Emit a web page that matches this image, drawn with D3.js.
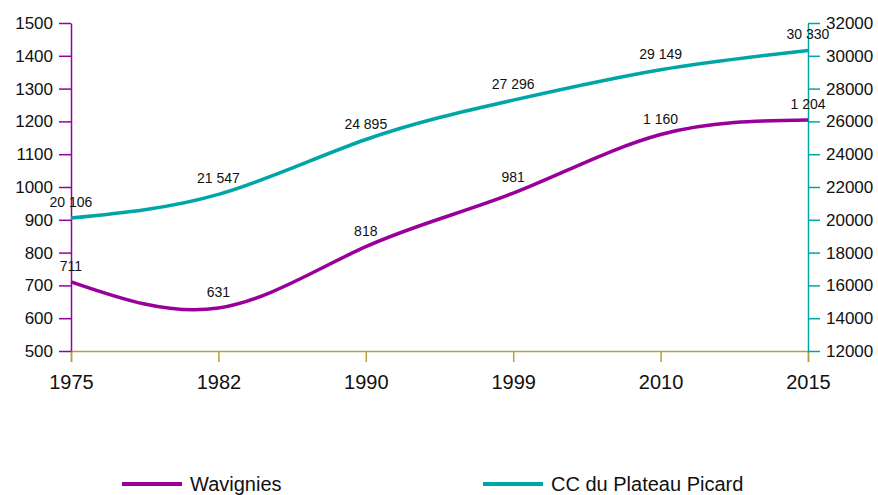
<!DOCTYPE html>
<html>
<head>
<meta charset="utf-8">
<script src="https://cdn.jsdelivr.net/npm/d3@7/dist/d3.min.js"></script>
<style>
  body { margin: 0; background: #fff; }
  text { font-family: "Liberation Sans", Arial, sans-serif; fill: #111; }
</style>
</head>
<body>
<svg width="878" height="495"></svg>
<script>
const years = ['1975', '1982', '1990', '1999', '2010', '2015'];
const wavignies = [711, 631, 818, 981, 1160, 1204];
const plateau = [20106, 21547, 24895, 27296, 29149, 30330];
const leftTicks = [500, 600, 700, 800, 900, 1000, 1100, 1200, 1300, 1400, 1500];
const rightTicks = [12000, 14000, 16000, 18000, 20000, 22000, 24000, 26000, 28000, 30000, 32000];
const seriesNames = ['Wavignies', 'CC du Plateau Picard'];

const purple = '#990099';
const teal = '#00a6a6';
const gold = '#b5a03a';

const svg = d3.select('svg');
const margin = {left: 71, top: 23, right: 70, bottom: 144};
const width = +svg.attr('width');
const height = +svg.attr('height');
const x0 = margin.left, x1 = width - margin.right;
const y0 = height - margin.bottom, y1 = margin.top;

// French style thousands separator for the data labels
const fmt = v => d3.format(',')(v).replace(/,/g, ' ');

const xScale = d3.scalePoint().domain(years).range([x0, x1]);
const yLeft = d3.scaleLinear().domain([500, 1500]).range([y0, y1]);
const yRight = d3.scaleLinear().domain([12000, 32000]).range([y0, y1]);

// x axis
const xaxis = svg.append('g')
    .attr('transform', `translate(0, ${y0})`)
    .call(d3.axisBottom(xScale).tickSize(11).tickPadding(13));
xaxis.select('.domain').attr('stroke', gold).attr('stroke-width', 1.5);
xaxis.selectAll('line').attr('stroke', gold).attr('stroke-width', 1.5);
xaxis.selectAll('text').attr('font-size', 20).attr('fill', '#111');

// left axis
const laxis = svg.append('g')
    .attr('transform', `translate(${x0}, 0)`)
    .call(d3.axisLeft(yLeft).tickValues(leftTicks).tickFormat(d3.format('d'))
      .tickSize(12).tickPadding(6).tickSizeOuter(0));
laxis.select('.domain').attr('stroke', purple).attr('stroke-width', 1.5);
laxis.selectAll('line').attr('stroke', purple).attr('stroke-width', 1.5);
laxis.selectAll('text').attr('font-size', 17).attr('fill', '#111');

// right axis
const raxis = svg.append('g')
    .attr('transform', `translate(${x1}, 0)`)
    .call(d3.axisRight(yRight).tickValues(rightTicks).tickFormat(d3.format('d'))
      .tickSize(12).tickPadding(6).tickSizeOuter(0));
raxis.select('.domain').attr('stroke', teal).attr('stroke-width', 1.5);
raxis.selectAll('line').attr('stroke', teal).attr('stroke-width', 1.5);
raxis.selectAll('text').attr('font-size', 17).attr('fill', '#111');

const series = [
  {name: seriesNames[0], values: wavignies, y: yLeft, color: purple},
  {name: seriesNames[1], values: plateau, y: yRight, color: teal}
];

series.forEach(s => {
  const line = d3.line()
      .x((d, i) => xScale(years[i]))
      .y(d => s.y(d))
      .curve(d3.curveNatural);
  svg.append('path')
      .attr('d', line(s.values))
      .attr('fill', 'none')
      .attr('stroke', s.color)
      .attr('stroke-width', 3.5);
  svg.append('g').selectAll('text').data(s.values)
    .enter().append('text')
      .attr('x', (d, i) => xScale(years[i]))
      .attr('y', d => s.y(d) - 11)
      .attr('text-anchor', 'middle')
      .attr('font-size', 14)
      .attr('fill', '#222')
      .text(d => fmt(d));
});

// legend
const legendX = [122, 483];
series.forEach((s, i) => {
  const g = svg.append('g').attr('transform', `translate(${legendX[i]}, 484)`);
  g.append('line').attr('x1', 0).attr('x2', 60).attr('y1', 0).attr('y2', 0)
      .attr('stroke', s.color).attr('stroke-width', 4);
  g.append('text').attr('x', 68).attr('y', 6.5)
      .attr('font-size', 20).text(s.name);
});
</script>
</body>
</html>
